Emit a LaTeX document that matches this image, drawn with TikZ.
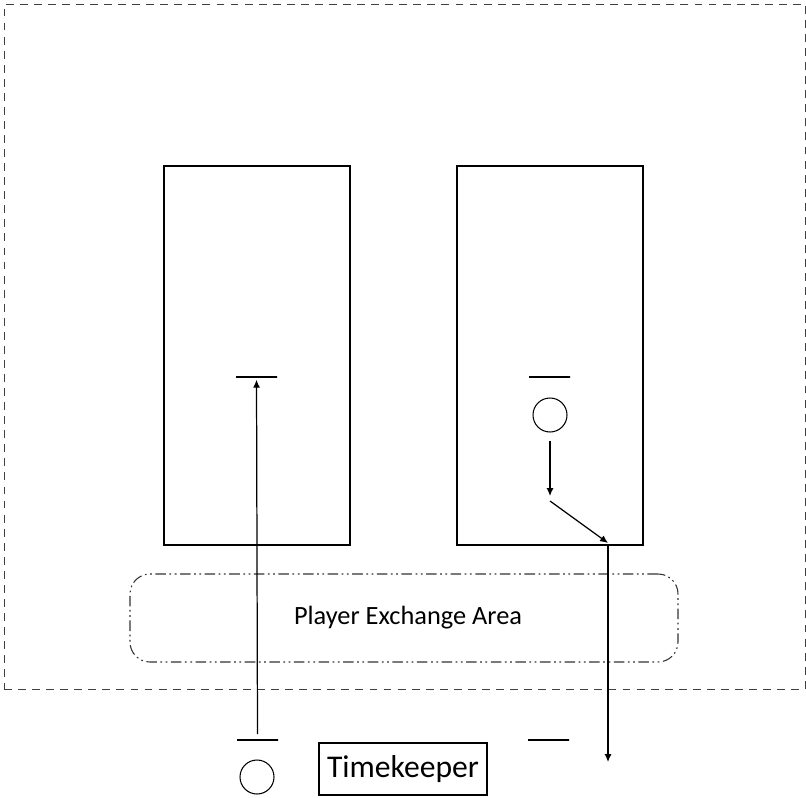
\documentclass[tikz,border=0pt]{standalone}
\usepackage{fontspec}
\setmainfont{Carlito}
\usetikzlibrary{arrows.meta, positioning}
\tikzset{
	court/.style={draw, line width=1pt, minimum width=3.72cm, minimum height=7.58cm},
	bar/.style={draw, line width=0.9pt, minimum width=0.82cm, minimum height=0pt, inner sep=0pt},
	player/.style={draw, circle, line width=0.6pt, minimum size=0.68cm, inner sep=0pt},
	move/.style={-{Latex[length=4.5pt, width=4pt]}, line width=0.7pt},
	hall/.style={draw=black!75, line width=0.5pt, dash pattern=on 4.5pt off 3.5pt},
	exchange/.style={draw=black!80, line width=0.6pt, rounded corners=0.4cm, dash pattern=on 6pt off 2pt on 1pt off 2pt on 1pt off 2pt}
}
\begin{document}
\begin{tikzpicture}
		\useasboundingbox (0,0) rectangle (16.12,-15.94);
		% Hall
		\node[hall, minimum width=16.02cm, minimum height=13.7cm] (hall) at (8.09,-6.93) {};
		
		% Courts
		\node[court] (courtL) at (5.14,-7.11) {};
		\node[court] (courtR) at (11.0,-7.11) {};
		
		% Exchange area
		\node[exchange, minimum width=10.96cm, minimum height=1.76cm] (area) at (8.08,-12.36) {};
		\node[font=\fontsize{15}{18}\selectfont] at (8.16,-12.36) {Player Exchange Area};
		
		% Players on court
		\node[bar] (barL) at (5.13,-7.54) {};
		\node[bar] (barR) at (10.99,-7.54) {};
		\node[player] (playerR) at (11.0,-8.3) {};
		\coordinate (turnR) at (11.0,-10.02);
		\coordinate (edgeR) at (12.16,-10.86);
		
		% Players outside
		\node[bar] (benchL) at (5.15,-14.8) {};
		\node[player] (playerL) at (5.14,-15.54) {};
		\node[bar] (benchR) at (10.97,-14.8) {};
		\coordinate (exitR) at (12.16,-15.24);
		
		% Timekeeper
		\node[draw, line width=0.6pt, minimum width=3.36cm, minimum height=1.04cm, font=\fontsize{18}{21}\selectfont] (timekeeper) at (8.06,-15.38) {Timekeeper};
		
		% Arrows
		\draw[move] ([yshift=0.1cm]benchL.north) -- ([yshift=-0.04cm]barL.south);
		\draw[move] ([yshift=-0.16cm]playerR.south) -- ([yshift=0.1cm]turnR);
		\draw[move] (turnR) -- (edgeR);
		\draw[move] (courtR.south -| edgeR) -- (exitR);
	\end{tikzpicture}
\end{document}
